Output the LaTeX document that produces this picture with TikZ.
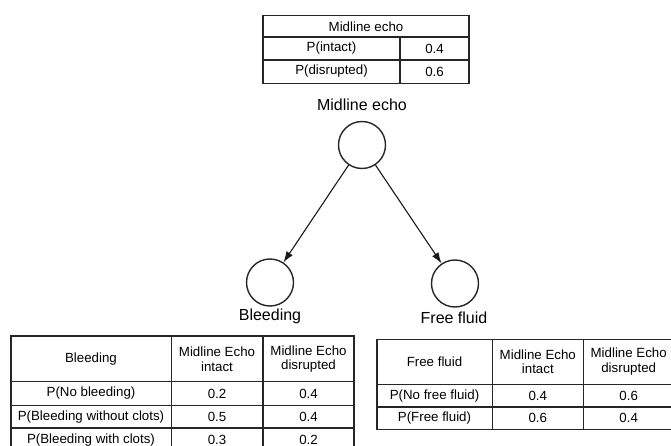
\documentclass[tikz,border=0pt]{standalone}
\usepackage{fontspec}
\setmainfont{Liberation Sans}
\usetikzlibrary{arrows.meta}
\begin{document}
\begin{tikzpicture}[x=1pt,y=-1pt,
  grid/.style={line width=1.6pt, draw=black!85},
  cell/.style={font=\fontsize{13.3}{14.5}\selectfont, align=center, inner sep=0pt},
  lbl/.style={font=\fontsize{16}{18}\selectfont, inner sep=0pt, anchor=base},
  var/.style={circle, draw=black!85, line width=1.4pt, minimum size=47pt, inner sep=0pt},
  link/.style={line width=1.1pt, draw=black!90, -{Latex[length=11pt,width=7.5pt]}}]
\useasboundingbox (0,0) rectangle (671,446);
\clip (0,0) rectangle (671,446);

% ---------- top table: Midline echo ----------
\draw[grid] (263,15.5) rectangle (469,83.5);
\draw[grid] (263,37) -- (469,37);
\draw[grid] (263,60) -- (469,60);
\draw[grid] (400,37) -- (400,83.5);
\node[cell] (t0) at (366,26.5) {Midline echo};
\node[cell] (t1a) at (331.5,48.5) {P(intact)};
\node[cell] (t1b) at (434.5,48.5) {0.4};
\node[cell] (t2a) at (331.5,71.5) {P(disrupted)};
\node[cell] (t2b) at (434.5,71.5) {0.6};

% ---------- network ----------
\node[lbl] (meL) at (362,110.5) {Midline echo};
\node[var] (me) at (362,145) {};
\node[var] (bl) at (270,282.5) {};
\node[var] (ff) at (455,283.5) {};
\node[lbl] (blL) at (270,320) {Bleeding};
\node[lbl] (ffL) at (454,323) {Free fluid};
\draw[link] (me) -- (bl);
\draw[link] (me) -- (ff);

% ---------- bottom-left table: Bleeding ----------
\draw[grid] (10.7,336) rectangle (354,451);
\draw[grid] (10.7,381.5) -- (354,381.5);
\draw[grid] (10.7,405.5) -- (354,405.5);
\draw[grid] (10.7,428) -- (354,428);
\draw[grid] (171.5,336) -- (171.5,451);
\draw[grid] (263,336) -- (263,451);
\node[cell] (b0a) at (91,359) {Bleeding};
\node[cell] (b0b) at (217,359) {Midline Echo\\intact};
\node[cell] (b0c) at (308.5,359) {Midline Echo\\disrupted};
\node[cell] (b1a) at (91,393.5) {P(No bleeding)};
\node[cell] (b1b) at (217,393.5) {0.2};
\node[cell] (b1c) at (308.5,393.5) {0.4};
\node[cell] (b2a) at (91,416.8) {P(Bleeding without clots)};
\node[cell] (b2b) at (217,416.8) {0.5};
\node[cell] (b2c) at (308.5,416.8) {0.4};
\node[cell] (b3a) at (91,440) {P(Bleeding with clots)};
\node[cell] (b3b) at (217,440) {0.3};
\node[cell] (b3c) at (308.5,440) {0.2};

% ---------- bottom-right table: Free fluid ----------
\draw[grid] (376.7,339.3) rectangle (674,429.5);
\draw[grid] (376.7,384.3) -- (674,384.3);
\draw[grid] (376.7,407) -- (674,407);
\draw[grid] (492.3,339.3) -- (492.3,429.5);
\draw[grid] (583.3,339.3) -- (583.3,429.5);
\node[cell] (f0a) at (434.5,361.8) {Free fluid};
\node[cell] (f0b) at (537.8,361.8) {Midline Echo\\intact};
\node[cell] (f0c) at (628.7,361.8) {Midline Echo\\disrupted};
\node[cell] (f1a) at (434.5,395.6) {P(No free fluid)};
\node[cell] (f1b) at (537.8,395.6) {0.4};
\node[cell] (f1c) at (628.7,395.6) {0.6};
\node[cell] (f2a) at (434.5,418.3) {P(Free fluid)};
\node[cell] (f2b) at (537.8,418.3) {0.6};
\node[cell] (f2c) at (628.7,418.3) {0.4};
\end{tikzpicture}
\end{document}
